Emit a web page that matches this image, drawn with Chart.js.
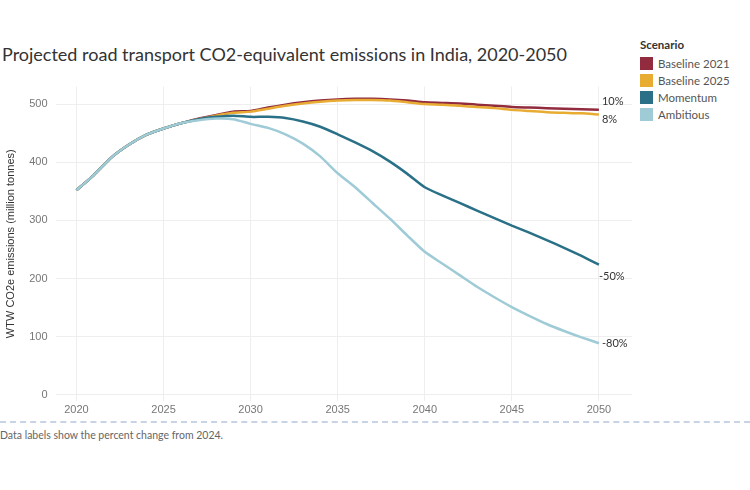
<!DOCTYPE html>
<html><head><meta charset="utf-8">
<script src="https://cdn.jsdelivr.net/npm/chart.js@4/dist/chart.umd.min.js"></script>
<style>
body{margin:0;background:#fff;font-family:Lato,"Open Sans",sans-serif;}
#title{position:absolute;left:2px;top:43px;font-size:18px;color:#333;}
#wrap{position:absolute;left:0;top:72px;width:640px;height:348px;}
#legend{position:absolute;left:640px;top:38px;font-size:11.5px;color:#555;}
#legend .h{font-weight:bold;color:#333;margin-bottom:4px;}
#legend .r{display:flex;align-items:center;height:17px;}
#legend .s{width:13px;height:13px;margin-right:5px;}
#dash{position:absolute;left:0;top:421px;width:750px;border-top:2px dashed #c8d3e6;}
#note{position:absolute;left:0;top:429px;font-size:10.5px;color:#666;}
</style></head><body>
<div id="title">Projected road transport CO2-equivalent emissions in India, 2020-2050</div>
<div id="wrap"><canvas id="c"></canvas></div>
<div id="legend"></div>
<div id="dash"></div>
<div id="note">Data labels show the percent change from 2024.</div>
<script>
const years=[2020,2021,2022,2023,2024,2025,2026,2027,2028,2029,2030,2031,2032,2033,2034,2035,2036,2037,2038,2039,2040,2041,2042,2043,2044,2045,2046,2047,2048,2049,2050];
const seriesNames=["Baseline 2021","Baseline 2025","Momentum","Ambitious"];
const endLabels=["10%","8%","-50%","-80%"];
const baseline2021=[352,378,408,430,447,458,467,475,481,487,488,494,499,503,506,508,509,509,508,506,503,502,501,499,497,495,494,493,492,491,490];
const baseline2025=[352,378,408,430,447,458,467,474,480,485,487,492,497,501,504,506,507,507,506,503,500,499,497,495,493,490,488,486,485,484,482];
const momentum=[352,378,408,430,447,458,467,474,478,480,478,478,476,470,461,448,434,419,401,380,357,343,330,317,304,291,279,266,253,239,224];
const ambitious=[352,378,408,430,447,458,467,472,475,474,466,459,448,432,410,381,357,330,303,274,246,226,206,186,168,151,136,122,110,99,89];
const colors=["#922b3e","#e8ac33","#2a7188","#9ecbd6"];
const values=[baseline2021,baseline2025,momentum,ambitious];
const lg=document.getElementById('legend');
lg.innerHTML='<div class="h">Scenario</div>'+seriesNames.map((n,i)=>`<div class="r"><div class="s" style="background:${colors[i]}"></div>${n}</div>`).join('');
const order=[3,2,1,0];
const datasets=order.map(i=>({label:seriesNames[i],data:years.map((y,k)=>({x:y,y:values[i][k]})),borderColor:colors[i],borderWidth:2.5,pointRadius:0,tension:0.2,endLabel:endLabels[i]}));
const labelPlugin={id:'endlab',afterDatasetsDraw(ch){const ctx=ch.ctx;ctx.save();ctx.font='11px Lato';ctx.fillStyle='#333';
ch.data.datasets.forEach((ds,di)=>{const m=ch.getDatasetMeta(di);const p=m.data[m.data.length-1];let dy=0,dx=3;
if(ds.endLabel==='10%')dy=-8;if(ds.endLabel==='8%')dy=5;if(ds.endLabel==='-50%'){dy=12;dx=0;}if(ds.endLabel==='-80%'){dy=0;dx=3;}
ctx.textBaseline='middle';ctx.fillText(ds.endLabel,p.x+dx,p.y+dy);});ctx.restore();}};
new Chart(document.getElementById('c'),{type:'line',data:{datasets},plugins:[labelPlugin],
options:{responsive:true,maintainAspectRatio:false,animation:false,
layout:{padding:{top:8,right:8}},
plugins:{legend:{display:false},tooltip:{enabled:false}},
scales:{x:{type:'linear',min:2018.8,max:2051.9,afterBuildTicks:a=>{a.ticks=[2020,2025,2030,2035,2040,2045,2050].map(v=>({value:v}));},
ticks:{color:'#777',font:{size:11},callback:v=>String(v)},grid:{color:'#eee',drawTicks:false},border:{display:false}},
y:{min:-10,max:530,afterBuildTicks:a=>{a.ticks=[0,100,200,300,400,500].map(v=>({value:v}));},
ticks:{color:'#777',font:{size:11},padding:8},grid:{color:'#eee',drawTicks:false},border:{display:false},
title:{display:true,text:'WTW CO2e emissions (million tonnes)',color:'#333',font:{size:11}}}}}});
</script></body></html>
